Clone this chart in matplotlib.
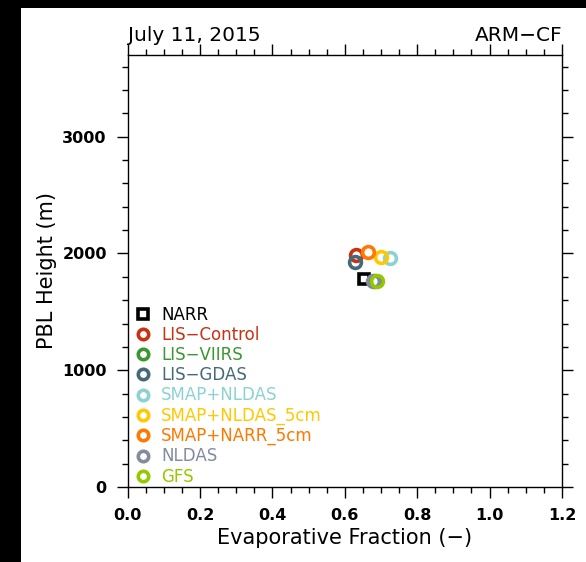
import matplotlib.pyplot as plt
from matplotlib.lines import Line2D
from matplotlib.patches import Rectangle
from matplotlib.ticker import MultipleLocator

plt.rcParams['font.family'] = ['DejaVu Sans']

# PBL height vs evaporative fraction for each dataset
names = ['NARR', 'LIS\u2212Control', 'LIS\u2212VIIRS', 'LIS\u2212GDAS', 'SMAP+NLDAS',
         'SMAP+NLDAS_5cm', 'SMAP+NARR_5cm', 'NLDAS', 'GFS']
ef = [0.652, 0.631, 0.683, 0.628, 0.725, 0.699, 0.665, 0.679, 0.690]
pbl = [1778, 1989, 1768, 1931, 1960, 1974, 2017, 1768, 1768]
colors = ['#000000', '#c83214', '#3c9632', '#46697a', '#8cd2d2',
          '#ffc800', '#ff7800', '#828c9e', '#96c800']
markers = ['s', 'o', 'o', 'o', 'o', 'o', 'o', 'o', 'o']

fig = plt.figure(figsize=(5.86, 5.62), dpi=100, facecolor='black')
fig.patches.append(Rectangle((21 / 586, 0), 1, 1 - 8 / 562, transform=fig.transFigure,
                             facecolor='white', edgecolor='none', zorder=-10))

ax = fig.add_axes([0.2179, 0.1335, 0.7411, 0.7686])

for i in range(len(names)):
    ms = 7.5 if markers[i] == 's' else 8.5
    ax.plot(ef[i], pbl[i], linestyle='none', marker=markers[i], ms=ms,
            mfc='none', mec=colors[i], mew=2.6, zorder=3 + i)

ax.set_xlim(0, 1.2)
ax.set_ylim(0, 3700)
ax.xaxis.set_major_locator(MultipleLocator(0.2))
ax.xaxis.set_minor_locator(MultipleLocator(0.05))
ax.yaxis.set_major_locator(MultipleLocator(1000))
ax.yaxis.set_minor_locator(MultipleLocator(200))
ax.set_xticks([0, 0.2, 0.4, 0.6, 0.8, 1.0, 1.2])
ax.set_xticklabels(['0.0', '0.2', '0.4', '0.6', '0.8', '1.0', '1.2'])
ax.tick_params(which='both', direction='out', top=True, right=True, width=1.0)
ax.tick_params(which='major', length=8, labelsize=11.5, pad=7)
ax.tick_params(which='minor', length=4.5)
ax.tick_params(top=True, right=True, labeltop=False, labelright=False)
for lab in ax.get_xticklabels() + ax.get_yticklabels():
    lab.set_fontweight('semibold')
for sp in ax.spines.values():
    sp.set_linewidth(1.0)

ax.set_xlabel('Evaporative Fraction (\u2212)', fontsize=15, labelpad=4)
ax.set_ylabel('PBL Height (m)', fontsize=15, labelpad=4)
ax.set_title('July 11, 2015', loc='left', fontsize=14.5, pad=10)
ax.set_title('ARM\u2212CF', loc='right', fontsize=14.5, pad=10)

handles = [Line2D([], [], linestyle='none', marker=markers[i], ms=7 if markers[i] == 's' else 7.5,
                  mfc='none', mec=colors[i], mew=2.6) for i in range(len(names))]
leg = ax.legend(handles, names, loc='lower left', bbox_to_anchor=(-0.008, -0.02),
                frameon=False, fontsize=12, labelspacing=0.13, handlelength=1.0,
                handletextpad=0.6, borderaxespad=0.2)
for txt, c in zip(leg.get_texts(), colors):
    txt.set_color(c)

fig.savefig('out.png', dpi=100, facecolor=fig.get_facecolor())
